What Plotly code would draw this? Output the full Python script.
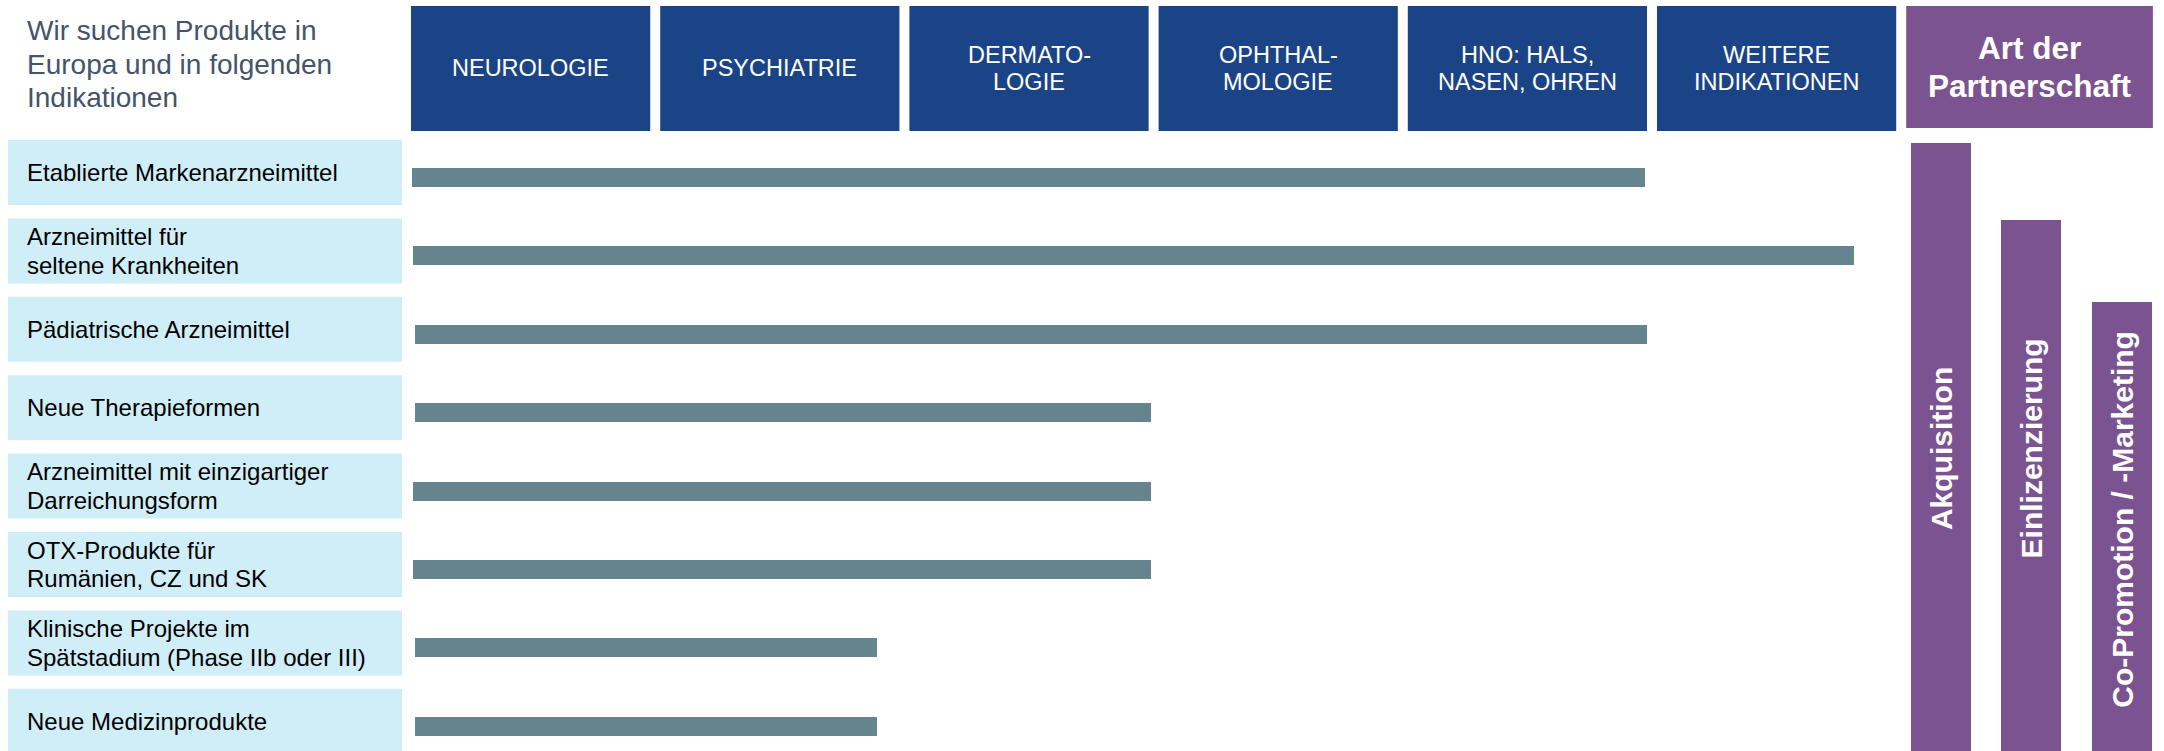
import plotly.graph_objects as go

W, H = 2164, 751

# ---------------- data ----------------
title_lines = ["Wir suchen Produkte in", "Europa und in folgenden", "Indikationen"]
indications = [
    ["NEUROLOGIE"],
    ["PSYCHIATRIE"],
    ["DERMATO-", "LOGIE"],
    ["OPHTHAL-", "MOLOGIE"],
    ["HNO: HALS,", "NASEN, OHREN"],
    ["WEITERE", "INDIKATIONEN"],
]
partnership_header = ["Art der", "Partnerschaft"]
product_types = [
    ["Etablierte Markenarzneimittel"],
    ["Arzneimittel für", "seltene Krankheiten"],
    ["Pädiatrische Arzneimittel"],
    ["Neue Therapieformen"],
    ["Arzneimittel mit einzigartiger", "Darreichungsform"],
    ["OTX-Produkte für", "Rumänien, CZ und SK"],
    ["Klinische Projekte im", "Spätstadium (Phase IIb oder III)"],
    ["Neue Medizinprodukte"],
]
# coverage measured in indication columns
coverage_start = [0.004, 0.008, 0.016, 0.016, 0.008, 0.008, 0.016, 0.016]
coverage_end = [4.95, 5.79, 4.96, 2.97, 2.97, 2.97, 1.87, 1.87]
partnership_types = ["Akquisition", "Einlizenzierung", "Co-Promotion / -Marketing"]
partnership_values = [100, 87.3, 73.8]

# ---------------- style ----------------
BLUE = "#1B4487"
PURPLE = "#7B5391"
TEAL = "#66848D"
LIGHT = "#D0EEF8"
SLATE = "#44546A"
FONT = "Liberation Sans, Arial, sans-serif"

# axis geometry (pixel mapping)
X0_PX, COL_PX = 411.0, 249.2
Y0_PX, ROW_PX = 177.5, 78.4
V_PX = 6.08

xr = [-X0_PX / COL_PX, (W - X0_PX) / COL_PX]
yr = [(H - Y0_PX) / ROW_PX, -Y0_PX / ROW_PX]
vr = [0, H / V_PX]


def ydat(px):
    return (px - Y0_PX) / ROW_PX


fig = go.Figure()

n = len(product_types)
rows = list(range(n))

# horizontal coverage bars
fig.add_trace(go.Bar(
    y=rows, x=[e - s for s, e in zip(coverage_start, coverage_end)],
    base=coverage_start, orientation="h", width=19 / ROW_PX,
    marker=dict(color=TEAL, line=dict(width=0)),
    xaxis="x", yaxis="y", hoverinfo="skip", showlegend=False,
))

# vertical partnership bars
ppos = [6.14 + 0.3625 * i for i in range(len(partnership_types))]
fig.add_trace(go.Bar(
    x=ppos, y=partnership_values, width=60 / COL_PX,
    marker=dict(color=PURPLE, line=dict(width=0)),
    xaxis="x", yaxis="y2", hoverinfo="skip", showlegend=False,
))

shapes = []
annotations = []


def add_lines(lines, x, xref, y, yref, spacing, size, color, xanchor="center",
              bold=False, base_shift=0, xshift=0):
    k = len(lines)
    for j, ln in enumerate(lines):
        txt = f"<b>{ln}</b>" if bold else ln
        annotations.append(dict(
            text=txt, x=x, xref=xref, y=y, yref=yref, showarrow=False,
            xanchor=xanchor, yanchor="middle", xshift=xshift,
            yshift=base_shift + ((k - 1) / 2 - j) * spacing,
            font=dict(family=FONT, size=size, color=color),
        ))


# title
add_lines(title_lines, 28 / W, "paper", 1 - 64 / H, "paper", 33.5, 28, SLATE,
          xanchor="left", xshift=-3)

# indication header boxes
for i, lines in enumerate(indications):
    shapes.append(dict(type="rect", xref="x", yref="y", x0=i, x1=i + 0.96,
                       y0=ydat(6), y1=ydat(131), fillcolor=BLUE,
                       line=dict(width=0), layer="below"))
    add_lines(lines, i + 0.48, "x", ydat(68), "y", 27, 23.5, "white")

# partnership header
ph = len(indications)
shapes.append(dict(type="rect", xref="x", yref="y", x0=ph, x1=ph + 0.99,
                   y0=ydat(6), y1=ydat(128), fillcolor=PURPLE,
                   line=dict(width=0), layer="below"))
add_lines(partnership_header, ph + 0.495, "x", ydat(67), "y", 38, 31.5, "white",
          bold=True)

# product type rows
for i, lines in enumerate(product_types):
    shapes.append(dict(type="rect", xref="paper", yref="y", x0=8 / W, x1=402 / W,
                       y0=i - 37.5 / ROW_PX, y1=i + 27.5 / ROW_PX,
                       fillcolor=LIGHT, line=dict(width=0), layer="below"))
    add_lines(lines, 28 / W, "paper", i, "y", 28.5, 24, "#000000",
              xanchor="left", base_shift=5, xshift=-3)

# vertical labels inside partnership bars
label_centers_px = [449, 448, 519]
for i, lab in enumerate(partnership_types):
    annotations.append(dict(
        text=f"<b>{lab}</b>", x=ppos[i], xref="x", y=1 - label_centers_px[i] / H,
        yref="paper", showarrow=False, textangle=-90,
        xanchor="center", yanchor="middle",
        font=dict(family=FONT, size=30, color="white"),
    ))

ax_common = dict(visible=False, showgrid=False, zeroline=False, fixedrange=True)
fig.update_layout(
    width=W, height=H, autosize=False,
    margin=dict(l=0, r=0, t=0, b=0, pad=0),
    paper_bgcolor="white", plot_bgcolor="white",
    xaxis=dict(range=xr, domain=[0, 1], **ax_common),
    yaxis=dict(range=yr, domain=[0, 1], **ax_common),
    yaxis2=dict(range=vr, domain=[0, 1], overlaying="y", **ax_common),
    shapes=shapes, annotations=annotations,
    barmode="overlay", bargap=0, hovermode=False,
)

fig.write_html("out.html", config={"displayModeBar": False},
               post_script="document.body.style.margin='0';document.body.style.overflow='hidden';")
